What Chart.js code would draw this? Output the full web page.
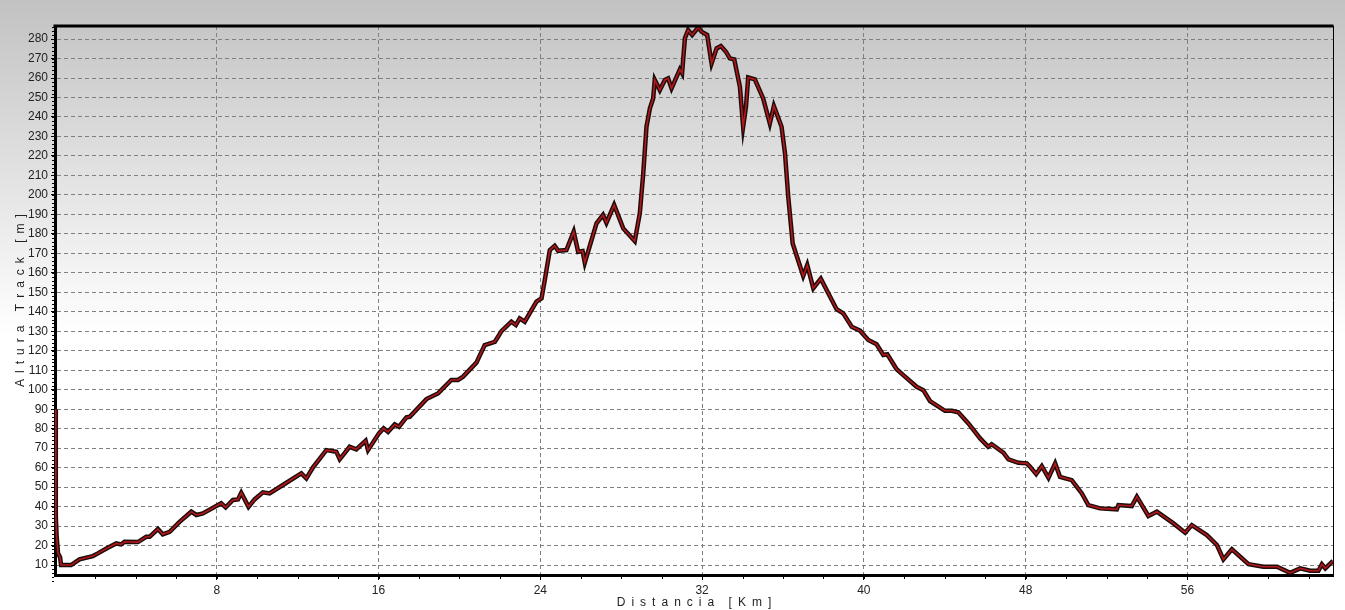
<!DOCTYPE html>
<html>
<head>
<meta charset="utf-8">
<script src="https://cdn.jsdelivr.net/npm/chart.js@4.4.1/dist/chart.umd.min.js"></script>
<style>
  html, body { margin: 0; padding: 0; background: #fff; }
  #wrap { width: 1345px; height: 610px; position: relative; }
</style>
</head>
<body>
<div id="wrap"><canvas id="perfil"></canvas></div>
<script>
const distanceKm = [
  0, 0.04, 0.08, 0.15, 0.25, 0.3, 0.8, 1.21, 1.87, 2.12, 2.61, 3.03, 3.27, 3.44, 4.1, 4.51, 4.68,
  5.09, 5.33, 5.67, 6.16, 6.74, 6.99, 7.31, 8.22, 8.44, 8.8, 9.05, 9.21, 9.57, 9.87, 10.28, 10.61,
  11.27, 12.18, 12.43, 12.76, 13.42, 13.91, 14.08, 14.57, 14.9, 15.36, 15.48, 16.02, 16.25, 16.47,
  16.8, 17.01, 17.38, 17.54, 18.37, 18.94, 19.6, 19.93, 20.18, 20.84, 21.25, 21.75, 21.91, 22.08,
  22.57, 22.79, 22.98, 23.23, 23.81, 24.06, 24.22, 24.47, 24.71, 24.88, 25.29, 25.65, 25.87, 26.09,
  26.2, 26.78, 27.1, 27.27, 27.65, 28.1, 28.67, 28.92, 29.09, 29.25, 29.42, 29.58, 29.66, 29.91,
  30.16, 30.32, 30.49, 30.9, 31.01, 31.15, 31.31, 31.51, 31.81, 31.97, 32.25, 32.47, 32.72, 32.93,
  33.18, 33.37, 33.59, 33.87, 34.03, 34.17, 34.28, 34.61, 35.02, 35.35, 35.55, 35.93, 36.1, 36.26,
  36.48, 37.0, 37.2, 37.5, 37.87, 38.65, 38.98, 39.4, 39.81, 40.22, 40.63, 40.96, 41.16, 41.62,
  41.95, 42.61, 42.94, 43.27, 44.01, 44.35, 44.67, 45.17, 45.75, 46.15, 46.32, 46.9, 47.15, 47.64,
  48.06, 48.22, 48.52, 48.8, 49.13, 49.46, 49.7, 50.28, 50.78, 51.1, 51.68, 52.51, 52.59, 53.25,
  53.5, 54.07, 54.49, 55.31, 55.89, 56.22, 56.96, 57.46, 57.78, 58.2, 59.02, 59.76, 60.43, 61.08,
  61.58, 62.07, 62.48, 62.65, 62.82, 63.2
];
const altitudeM = [
  90, 35, 25, 16, 14, 10, 10, 12.9, 14.6, 16, 18.9, 21.1, 20.6, 22, 21.8, 24.5, 24.5,
  28.5, 25.8, 27.1, 32.2, 37.4, 35.7, 36.5, 41.7, 39.6, 43.4, 43.7, 47.1, 39.9, 43.7, 47.3, 46.8,
  51.1, 57.1, 54.5, 60.2, 69, 68.2, 64.3, 70.7, 69.4, 73.8, 69, 77.6, 80.2, 78.4,
  82.2, 81, 85.8, 86.1, 95.2, 98.1, 105, 105, 106.7, 113.9, 122.9, 124.6, 127.2, 130.1,
  134.9, 133.2, 136.6, 134.9, 145.2, 146.9, 156.3, 171.7, 173.9, 171.3, 171.7, 181.1, 170.8, 171.2,
  165.2, 185.4, 189.7, 185.7, 194.8, 182.8, 176.3, 190.5, 211, 235, 244.4, 249.5, 259, 253.8,
  259, 259.8, 254.7, 264.4, 262.4, 280.4, 284.6, 282.1, 286, 283.8, 282.1, 267.5, 275.2, 276.4,
  273.5, 270.1, 269.6, 255.5, 235, 245.3, 260.3, 259.3, 249.5, 236.7, 245.6, 235, 221.3, 199.1,
  175.1, 158.4, 164, 152.1, 157, 141.3, 139.2, 132.3, 130.3, 125.5, 123.3, 117.8, 118.2, 110.5,
  107.5, 101.5, 99.8, 94.2, 89.2, 89.2, 88.4, 82.7, 75, 70.7, 72, 67.7, 64.3, 62.5,
  62.2, 60.5, 56.7, 60.8, 54.8, 62.2, 55.3, 53.6, 46.8, 40.8, 39.1, 38.6, 40.8, 40.3,
  45.1, 35.2, 37.4, 31.4, 26.6, 30.5, 25.4, 20.3, 12.9, 18.1, 10.5, 9.1, 9.1, 6,
  8.3, 7.1, 7.1, 10.4, 8.3, 12.1
];
const xTickKm = [8, 16, 24, 32, 40, 48, 56];
const yTickM = [10, 20, 30, 40, 50, 60, 70, 80, 90, 100, 110, 120, 130, 140, 150, 160, 170, 180,
  190, 200, 210, 220, 230, 240, 250, 260, 270, 280];

const puntos = distanceKm.map((d, i) => ({ x: d, y: altitudeM[i] }));
const fuente = { family: "'Liberation Sans', Arial, sans-serif", size: 12 };

// titulos con letras separadas: en space entre letras, em space entre palabras
const espaciar = s => s.split(' ').map(w => w.split('').join('\u2002')).join('\u2003\u2009');

// fondo degradado gris -> blanco
const fondo = {
  id: 'fondo',
  beforeDraw(chart) {
    const c = chart.ctx;
    const g = c.createLinearGradient(0, 0, 0, 335);
    g.addColorStop(0, '#c2c2c2');
    g.addColorStop(1, '#ffffff');
    c.save();
    c.fillStyle = g;
    c.fillRect(0, 0, chart.width, chart.height);
    c.restore();
  }
};

// marco superior/derecho y marcas menores de los ejes
const marco = {
  id: 'marco',
  afterDraw(chart) {
    const c = chart.ctx, a = chart.chartArea;
    const xs = chart.scales.x, ys = chart.scales.y;
    c.save();
    c.strokeStyle = '#000';
    c.lineWidth = 3;
    c.beginPath();
    c.moveTo(a.left - 1.5, a.top);
    c.lineTo(a.right + 0.5, a.top);
    c.stroke();
    c.lineWidth = 1;
    c.beginPath();
    c.moveTo(a.right + 0.5, a.top);
    c.lineTo(a.right + 0.5, a.bottom);
    c.stroke();
    c.beginPath();
    for (let v = 2; v < ys.max; v += 2) {
      const py = Math.round(ys.getPixelForValue(v)) + 0.5;
      if (py < a.top) break;
      c.moveTo(a.left - 3, py);
      c.lineTo(a.left - 1, py);
    }
    for (let v = 2; v < xs.max; v += 2) {
      const px = Math.round(xs.getPixelForValue(v)) + 0.5;
      c.moveTo(px, a.bottom + 1);
      c.lineTo(px, a.bottom + 4);
    }
    c.stroke();
    c.restore();
  }
};

new Chart(document.getElementById('perfil'), {
  type: 'scatter',
  data: {
    datasets: [
      { data: puntos, showLine: true, borderColor: '#b3191b', borderWidth: 1.6, pointRadius: 0, order: 1 },
      { data: puntos, showLine: true, borderColor: '#1e0b0b', borderWidth: 4.5, pointRadius: 0, order: 2 }
    ]
  },
  options: {
    responsive: true,
    maintainAspectRatio: false,
    animation: false,
    events: [],
    layout: { padding: { top: 26, right: 12, left: 0, bottom: 0 } },
    plugins: { legend: { display: false }, tooltip: { enabled: false } },
    scales: {
      x: {
        type: 'linear',
        min: 0,
        max: 63.2,
        afterBuildTicks: s => { s.ticks = xTickKm.map(v => ({ value: v })); },
        afterFit: s => { s.height = 35; },
        ticks: { font: fuente, color: '#222', padding: 3, maxRotation: 0, autoSkip: false },
        grid: { color: '#808080', lineWidth: 1, tickLength: 5, tickColor: '#000' },
        border: { color: '#000', width: 3, dash: [4, 3] },
        title: {
          display: true,
          text: espaciar('Distancia [Km]'),
          font: { family: fuente.family, size: 12 },
          color: '#222',
          padding: { top: 0, bottom: 0 }
        }
      },
      y: {
        min: 4.9,
        max: 286.7,
        afterBuildTicks: s => { s.ticks = yTickM.map(v => ({ value: v })); },
        afterFit: s => { s.width = 55; },
        ticks: { font: fuente, color: '#222', padding: 3, autoSkip: false },
        grid: { color: '#808080', lineWidth: 1, tickLength: 4, tickColor: '#000' },
        border: { color: '#000', width: 3, dash: [4, 3] },
        title: {
          display: true,
          text: espaciar('Altura Track [m]'),
          font: { family: fuente.family, size: 12 },
          color: '#222',
          padding: { top: 13, bottom: 0 }
        }
      }
    }
  },
  plugins: [fondo, marco]
});
</script>
</body>
</html>
